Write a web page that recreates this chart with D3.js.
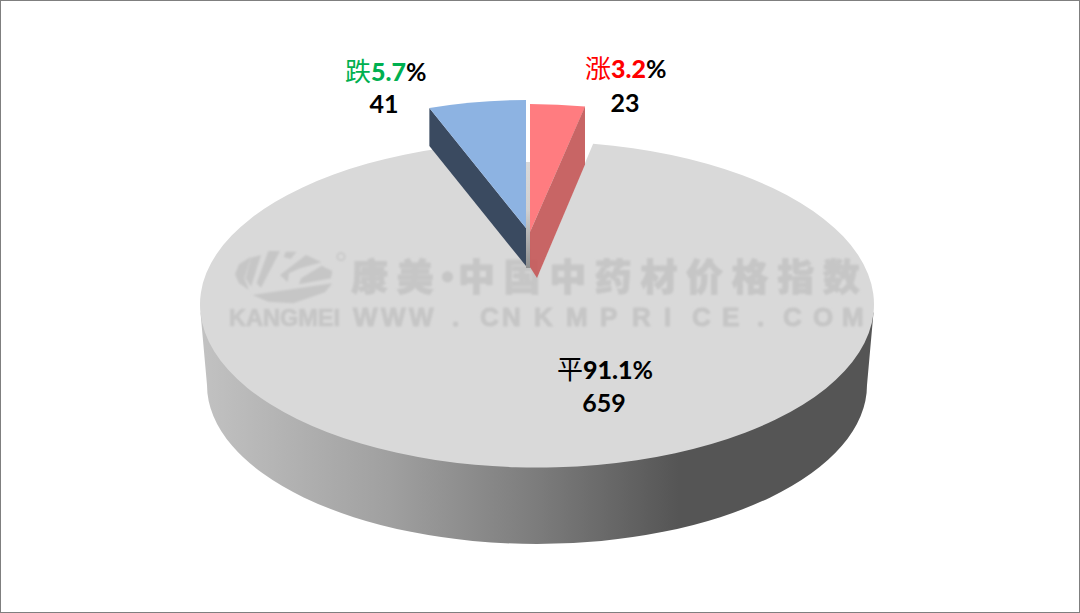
<!DOCTYPE html>
<html><head><meta charset="utf-8">
<script src="https://cdnjs.cloudflare.com/ajax/libs/d3/7.8.5/d3.min.js"></script>
<style>html,body{margin:0;padding:0;background:#fff}svg{display:block}</style>
</head><body><svg id="c" width="1080" height="613"></svg>
<script>
const categories = ["涨", "平", "跌"];
const counts = [23, 659, 41];
const shareLabels = ["3.2", "91.1", "5.7"];
const categoryColors = ["#ff0000", "#000000", "#00b050"];
const valueColors = ["#ff0000", "#000000", "#00b050"];
const watermarkCn = "康美·中国中药材价格指数";
const watermarkUrl = "WWW . CNKMPRICE . COM";
const watermarkEn = "KANGMEI";

const svg = d3.select("#c");
const defs = svg.append("defs");
const W = 1080, H = 613;
svg.append("rect").attr("x",.5).attr("y",.5).attr("width",W-1).attr("height",H-1)
  .attr("fill","#fff").attr("stroke","#7f7f7f").attr("stroke-width",1);

const pie = d3.pie().sort(null).startAngle(0).endAngle(2*Math.PI);
const arcs = pie(counts);
const [redA, greyA, blueA] = arcs;

// projected geometry
const upper = {cx:537, cy:304.5, rx:337, ry:163};
const low = {cx:537, cy:385, rx:330, ry:159};
const greyApex = {x:539, y:273};
const small = {rx:277, ry:128};
const redApex = {x:530, y:232}, blueApex = {x:526, y:228};

// wall gradient
const g = defs.append("linearGradient").attr("id","wall").attr("gradientUnits","userSpaceOnUse")
  .attr("x1",200).attr("x2",874).attr("y1",0).attr("y2",0);
[[0,"#c2c2c2"],[.28,"#a0a0a0"],[.5,"#7c7c7c"],[.71,"#555555"],[1,"#555555"]]
  .forEach(s=>g.append("stop").attr("offset",s[0]).attr("stop-color",s[1]));
const sg = defs.append("linearGradient").attr("id","strip").attr("gradientUnits","userSpaceOnUse")
  .attr("x1",0).attr("x2",0).attr("y1",162).attr("y2",268);
[[0,"#d9d9d9"],[.45,"#d0d0d0"],[1,"#8f8f8f"]]
  .forEach(s=>sg.append("stop").attr("offset",s[0]).attr("stop-color",s[1]));
defs.append("filter").attr("id","soft").append("feGaussianBlur").attr("stdDeviation",0.9);

// cylinder wall
svg.append("path").attr("fill","url(#wall)").attr("d",
  `M${upper.cx+upper.rx-.5},${upper.cy+8} L${low.cx+low.rx},${low.cy}
   A${low.rx},${low.ry} 0 0 1 ${low.cx-low.rx},${low.cy}
   L${upper.cx-upper.rx+.5},${upper.cy+8} Z`);

// rim point where the ray from the grey apex meets the upper ellipse
function rim(angle){
  const dx = Math.sin(angle)*upper.rx, dy = -Math.cos(angle)*upper.ry;
  const ox = (greyApex.x-upper.cx)/upper.rx, oy = (greyApex.y-upper.cy)/upper.ry;
  const ux = dx/upper.rx, uy = dy/upper.ry;
  const a = ux*ux+uy*uy, b = 2*(ox*ux+oy*uy), c = ox*ox+oy*oy-1;
  const t = (-b+Math.sqrt(b*b-4*a*c))/(2*a);
  return [greyApex.x+dx*t, greyApex.y+dy*t];
}
const p0 = rim(greyA.startAngle), p1 = rim(greyA.endAngle);
svg.append("path").attr("fill","#d9d9d9").attr("d",
  `M${greyApex.x},${greyApex.y} L${p0[0]},${p0[1]} A${upper.rx},${upper.ry} 0 1 1 ${p1[0]},${p1[1]} Z`);

// watermark
const wm = svg.append("g").attr("filter","url(#soft)").attr("fill","#c6c6c6").attr("stroke","#c6c6c6");
let xPos = 351; const xs = [];
[...watermarkCn].forEach(ch=>{
  if(ch==="·"){ xs.push(429); xPos = 458; }
  else { xs.push(xPos); xPos += 45.6; }
});
wm.append("text").attr("x",xs.join(" ")).attr("y",291).attr("stroke-width",.8)
  .attr("font-family","'Noto Sans CJK SC'").attr("font-weight",900).attr("font-size",37).text(watermarkCn);
const urlGlyphX = [353,381,409,440,452,470,480,502,534,566,600,632,664,692,722,745,757,775,783,813,842];
wm.append("text").attr("x",urlGlyphX.join(" ")).attr("y",326).attr("stroke-width",.9)
  .attr("font-family","'Liberation Sans'").attr("font-weight",700).attr("font-size",26).text(watermarkUrl);
wm.append("text").attr("x",229).attr("y",326).attr("textLength",111).attr("lengthAdjust","spacingAndGlyphs").attr("stroke-width",.7)
  .attr("font-family","'Liberation Sans'").attr("font-weight",700).attr("font-size",23).text(watermarkEn);
const logo = wm.append("g").attr("transform","translate(225,245) scale(.3333)").attr("stroke","none");
["M78,35 L42,58 L30,88 L42,115 L72,135 L58,100 Z",
 "M108,30 L78,38 L62,100 L78,125 Z",
 "M165,18 L130,18 L95,115 L108,128 Z",
 "M215,20 L182,20 L176,36 L197,42 Z",
 "M290,52 L243,30 L165,90 L188,112 L192,85 L225,70 Z",
 "M322,78 L290,62 L228,100 L222,118 L318,100 Z",
 "M82,150 L322,115 L300,142 L205,175 L130,170 Z"
].forEach(d=>logo.append("path").attr("d",d));
logo.append("circle").attr("cx",348).attr("cy",35).attr("r",11).attr("fill","none").attr("stroke","#c6c6c6").attr("stroke-width",5);

// gap strip of the grey slice
svg.append("rect").attr("x",526).attr("y",162).attr("width",4.5).attr("height",106).attr("fill","url(#strip)");

const unitArc = d3.arc().innerRadius(0).outerRadius(1);
const proj = (ap,ang)=>[ap.x+Math.sin(ang)*small.rx, ap.y-Math.cos(ang)*small.ry];

// blue slice
const blueTip = proj(blueApex, blueA.startAngle);
const blueDepth = 38;
svg.append("path").attr("fill","#3a4a60").attr("d",
  d3.line()([blueTip,[blueApex.x,blueApex.y],[blueApex.x,blueApex.y+blueDepth],[blueTip[0],blueTip[1]+blueDepth]])+"Z");
svg.append("path").attr("fill","#8db3e2")
  .attr("transform",`translate(${blueApex.x},${blueApex.y}) scale(${small.rx},${small.ry})`)
  .attr("d",unitArc({startAngle:blueA.startAngle,endAngle:blueA.endAngle}));

// red slice
const redTip = proj(redApex, redA.endAngle);
svg.append("path").attr("fill","#ff7c80")
  .attr("transform",`translate(${redApex.x},${redApex.y}) scale(${small.rx},${small.ry})`)
  .attr("d",unitArc({startAngle:redA.startAngle,endAngle:redA.endAngle}));
svg.append("path").attr("fill","#c65f5f").attr("fill-opacity",.96).attr("d",
  d3.line()([redTip,[redApex.x,redApex.y],[redApex.x,redApex.y+35],[redApex.x+7,redApex.y+46],[redTip[0],redTip[1]+58]])+"Z");

// labels
const labelPos = [
  {x:585, y:78, cx:625, cy:112},
  {x:557, y:379, cx:604, cy:412},
  {x:345, y:81, cx:384, cy:113}
];
const latin = "Lato, 'Open Sans', sans-serif";
const lab = svg.append("g");
categories.forEach((c,i)=>{
  const t = lab.append("text").attr("x",labelPos[i].x).attr("y",labelPos[i].y).attr("font-size",25);
  t.append("tspan").attr("font-family","'Noto Sans CJK SC'").attr("font-size",26).attr("fill",categoryColors[i]).text(c);
  t.append("tspan").attr("font-family",latin).attr("font-weight",900).attr("fill",valueColors[i]).text(shareLabels[i]);
  t.append("tspan").attr("font-family",latin).attr("font-weight",700).attr("fill","#000").text("%");
  lab.append("text").attr("x",labelPos[i].cx).attr("y",labelPos[i].cy).attr("text-anchor","middle")
    .attr("font-family",latin).attr("font-weight",700).attr("font-size",25).attr("fill","#000").text(counts[i]);
});
</script></body></html>
